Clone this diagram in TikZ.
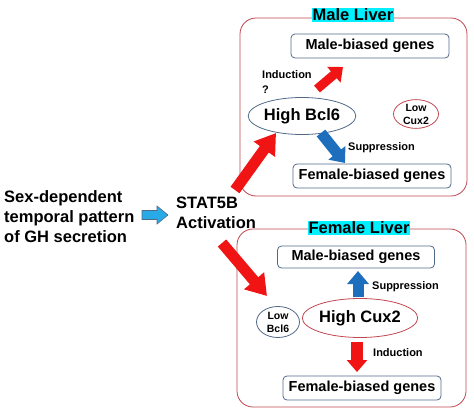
\documentclass[tikz,border=0pt]{standalone}
\usepackage{fontspec}
\setmainfont{Liberation Sans}
\usetikzlibrary{positioning, arrows.meta, shapes.geometric}

\definecolor{arrowred}{RGB}{240,20,20}
\definecolor{arrowblue}{RGB}{30,110,190}
\definecolor{lightarrow}{RGB}{40,170,230}
\definecolor{liverred}{RGB}{192,70,80}
\definecolor{boxblue}{RGB}{80,105,135}
\definecolor{labelcyan}{RGB}{0,240,255}

\tikzset{
  bigtext/.style={font=\fontsize{16.5}{20}\selectfont\bfseries, inner sep=0pt},
  smalltext/.style={font=\fontsize{11}{15}\selectfont\bfseries, inner sep=0pt},
  liverbox/.style={draw=liverred, line width=0.8pt, rounded corners=16pt, minimum height=178pt},
  liverlabel/.style={bigtext, fill=labelcyan, inner sep=1pt},
  genebox/.style={draw=boxblue, line width=0.8pt, rounded corners=4pt, minimum width=158pt, minimum height=24pt,
    font=\fontsize{14.5}{16}\selectfont\bfseries, inner sep=0pt},
  highoval/.style={ellipse, line width=0.8pt, inner sep=0pt, font=\fontsize{16.5}{20}\selectfont\bfseries},
  lowoval/.style={ellipse, line width=0.8pt, inner sep=0pt, align=center,
    font=\fontsize{10.5}{13}\selectfont\bfseries},
  redarrow/.style={draw=arrowred, line width=#1, -{Triangle[length=12pt, width=20pt]}},
  bluearrow/.style={draw=arrowblue, line width=#1, -{Triangle[length=13pt, width=21pt]}},
}

\begin{document}
\begin{tikzpicture}[x=1pt, y=-1pt]
\useasboundingbox (0,0) rectangle (474,415);

% left side
\node[bigtext, anchor=west, align=left] (pattern) at (4,217)
  {Sex-dependent\\temporal pattern\\of GH secretion};
\node[bigtext, anchor=west, align=left] (stat) at (176,213) {STAT5B\\Activation};
\draw[draw=boxblue, fill=lightarrow, line width=0.6pt, line join=miter]
  (142,210.5) -- (157,210.5) -- (157,206) -- (168,215) -- (157,224) -- (157,219.5) -- (142,219.5) -- cycle;

% male liver
\node[liverbox, minimum width=227pt] (male) at (353.5,107) {};
\node[liverlabel] (malelabel) at (353,15) {Male Liver};
\node[genebox] (mgenes1) at (370,46) {Male-biased genes};
\node[genebox] (fgenes1) at (372,176) {Female-biased genes};
\node[highoval, draw=boxblue, minimum width=86pt, minimum height=37pt] (bcl6) at (302,116) {High Bcl6};
\node[lowoval, draw=liverred, minimum width=45pt, minimum height=28pt] (lowcux) at (416,114) {Low\\Cux2};
\node[smalltext, anchor=north west, align=left] (ind1) at (262,70) {Induction\\?};
\node[smalltext, anchor=west] (sup1) at (348,148) {Suppression};

% female liver
\node[liverbox, minimum width=229pt] (female) at (351.5,318) {};
\node[liverlabel] (femalelabel) at (359,228) {Female Liver};
\node[genebox, minimum width=157pt, minimum height=22pt] (mgenes2) at (356,257) {Male-biased genes};
\node[genebox] (fgenes2) at (362,388) {Female-biased genes};
\node[highoval, draw=liverred, minimum width=89pt, minimum height=39pt] (cux2) at (360,318) {High Cux2};
\node[lowoval, draw=boxblue, minimum width=43pt, minimum height=31pt] (lowbcl) at (278,322) {Low\\Bcl6};
\node[smalltext, anchor=west] (sup2) at (372,287) {Suppression};
\node[smalltext, anchor=west] (ind2) at (373,353) {Induction};

% arrow ends
\coordinate (statup) at (235,190);
\coordinate (maleend) at (276,133);
\coordinate (statdown) at (222,243);
\coordinate (femaleend) at (267,296);
\coordinate (bcltop) at (317,89);
\coordinate (mtip1) at (343,67);
\coordinate (bclbot) at (321,133);
\coordinate (ftip1) at (345,163);
\coordinate (cuxtop) at (358,297);
\coordinate (mtip2) at (358,271);
\coordinate (cuxbot) at (357,342);
\coordinate (ftip2) at (357,372);

% arrows
\draw[arrowred, line width=11pt, -{Triangle[length=20pt, width=25pt]}] (statup) -- (maleend);
\draw[arrowred, line width=11pt, -{Triangle[length=20pt, width=25pt]}] (statdown) -- (femaleend);
\draw[redarrow=9pt] (bcltop) -- (mtip1);
\draw[bluearrow=11pt] (bclbot) -- (ftip1);
\draw[bluearrow=11pt] (cuxtop) -- (mtip2);
\draw[redarrow=12pt] (cuxbot) -- (ftip2);
\end{tikzpicture}
\end{document}
